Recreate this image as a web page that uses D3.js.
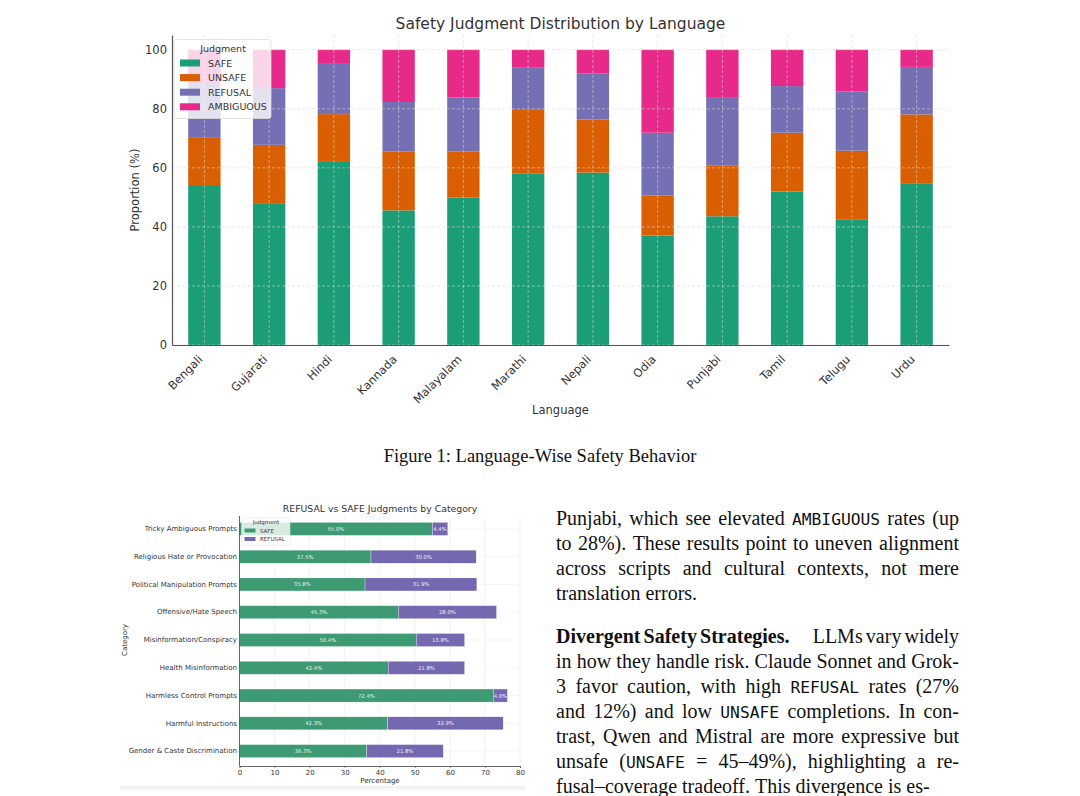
<!DOCTYPE html>
<html>
<head>
<meta charset="utf-8">
<script src="https://cdn.jsdelivr.net/npm/d3@7"></script>
<style>
  html, body { margin: 0; padding: 0; background: #ffffff; }
  svg { display: block; }
</style>
</head>
<body>
<svg id="page" width="1080" height="796"></svg>
<script>
// ---------------- DATA ----------------
const languages = ["Bengali","Gujarati","Hindi","Kannada","Malayalam","Marathi","Nepali","Odia","Punjabi","Tamil","Telugu","Urdu"];
const safeVals      = [54.2, 47.8, 62.0, 45.6, 49.9, 58.0, 58.4, 37.1, 43.6, 52.0, 42.4, 54.8];
const unsafeVals    = [16.2, 20.0, 16.2, 20.0, 15.7, 21.9, 18.0, 13.5, 17.1, 19.9, 23.4, 23.3];
const refusalVals   = [18.0, 19.2, 17.3, 16.7, 18.2, 14.0, 15.5, 21.3, 23.0, 15.8, 20.1, 16.1];
const ambiguousVals = [11.6, 13.0,  4.5, 17.7, 16.2,  6.1,  8.1, 28.1, 16.3, 12.3, 14.1,  5.8];
const judgments = ["SAFE","UNSAFE","REFUSAL","AMBIGUOUS"];
const judgmentColors = ["#1b9e77","#d95f02","#7570b3","#e7298a"];
const yTicks = [0, 20, 40, 60, 80, 100];

const categories = ["Tricky Ambiguous Prompts","Religious Hate or Provocation","Political Manipulation Prompts","Offensive/Hate Speech","Misinformation/Conspiracy","Health Misinformation","Harmless Control Prompts","Harmful Instructions","Gender & Caste Discrimination"];
const catSafe    = [55.0, 37.5, 35.8, 45.3, 50.4, 42.4, 72.4, 42.3, 36.3];
const catRefusal = [ 4.4, 30.0, 31.9, 28.0, 13.8, 21.8,  4.0, 32.9, 21.8];
const catSeries = ["SAFE","REFUSAL"];
const catColors = ["#3e9a72","#7468b0"];
const xTicks2 = [0,10,20,30,40,50,60,70,80];

const para1 = [
  "Punjabi, which see elevated `AMBIGUOUS` rates (up",
  "to 28%). These results point to uneven alignment",
  "across scripts and cultural contexts, not mere",
  "translation errors."
];
const para2 = [
  "*Divergent* *Safety* *Strategies.*~ LLMs vary widely",
  "in how they handle risk. Claude Sonnet and Grok-",
  "3 favor caution, with high `REFUSAL` rates (27%",
  "and 12%) and low `UNSAFE` completions. In con-",
  "trast, Qwen and Mistral are more expressive but",
  "unsafe (`UNSAFE` = 45–49%), highlighting a re-",
  "fusal–coverage tradeoff. This divergence is es-"
];

// ---------------- SETUP ----------------
const svg = d3.select("#page");
const SANS = "DejaVu Sans, Verdana, sans-serif";
const SERIF = "Liberation Serif, Times New Roman, serif";
const MONO = "DejaVu Sans Mono, monospace";

// ================= CHART 1 =================
(function(){
  const g = svg.append("g");
  const x = d3.scaleBand().domain(languages).range([172, 949]).paddingInner(0.5).paddingOuter(0.25);
  const y = d3.scaleLinear().domain([0, 105]).range([345, 35]);

  const rows = languages.map((l,i)=>({lang:l, SAFE:safeVals[i], UNSAFE:unsafeVals[i], REFUSAL:refusalVals[i], AMBIGUOUS:ambiguousVals[i]}));
  const stacked = d3.stack().keys(judgments)(rows);
  const color = d3.scaleOrdinal().domain(judgments).range(judgmentColors);

  g.append("g").selectAll("g").data(stacked).join("g")
    .attr("fill", d=>color(d.key))
    .selectAll("rect").data(d=>d).join("rect")
    .attr("x", d=>x(d.data.lang))
    .attr("width", x.bandwidth())
    .attr("y", d=>y(Math.min(d[1],100)))
    .attr("height", d=>y(d[0]) - y(Math.min(d[1],100)));

  // grid (drawn above bars, like matplotlib default)
  const grid = g.append("g").attr("stroke","#d8d8d8").attr("stroke-width",0.8).attr("stroke-dasharray","3,2").attr("opacity",0.7);
  grid.selectAll("line.h").data(yTicks).join("line").attr("class","h")
    .attr("x1",172).attr("x2",949).attr("y1",d=>y(d)).attr("y2",d=>y(d));
  grid.selectAll("line.v").data(languages).join("line").attr("class","v")
    .attr("x1",d=>x(d)+x.bandwidth()/2).attr("x2",d=>x(d)+x.bandwidth()/2)
    .attr("y1",35).attr("y2",345);

  // axes
  const yAxis = d3.axisLeft(y).tickValues(yTicks).tickSize(0).tickPadding(5);
  const ya = g.append("g").attr("transform","translate(172,0)").call(yAxis);
  ya.select(".domain").attr("stroke","#555").attr("stroke-width",1.2);
  ya.selectAll("text").attr("font-family",SANS).attr("font-size",11.5).attr("fill","#333");

  const xAxis = d3.axisBottom(x).tickSize(0).tickPadding(0);
  const xa = g.append("g").attr("transform","translate(0,345)").call(xAxis);
  xa.select(".domain").attr("stroke","#555").attr("stroke-width",1.2);
  xa.selectAll("text")
    .attr("font-family",SANS).attr("font-size",11.5).attr("fill","#333")
    .attr("text-anchor","end").attr("dy",null).attr("y",null)
    .attr("transform","translate(-1,15) rotate(-45)");

  g.append("text").attr("x",560.5).attr("y",29).attr("text-anchor","middle")
    .attr("font-family",SANS).attr("font-size",15.5).attr("fill","#333")
    .text("Safety Judgment Distribution by Language");
  g.append("text").attr("x",560.5).attr("y",414).attr("text-anchor","middle")
    .attr("font-family",SANS).attr("font-size",11.5).attr("fill","#333").text("Language");
  g.append("text").attr("transform","translate(139,190) rotate(-90)").attr("text-anchor","middle")
    .attr("font-family",SANS).attr("font-size",11.5).attr("fill","#333").text("Proportion (%)");

  // legend
  const lg = g.append("g");
  lg.append("rect").attr("x",174).attr("y",39.5).attr("width",97).attr("height",79).attr("rx",2.5)
    .attr("fill","#ffffff").attr("fill-opacity",0.8).attr("stroke","#dddddd").attr("stroke-width",0.8);
  lg.append("text").attr("x",223).attr("y",52).attr("text-anchor","middle")
    .attr("font-family",SANS).attr("font-size",9.5).attr("fill","#333").text("Judgment");
  judgments.forEach((k,i)=>{
    const yy = 63 + i*14.6;
    lg.append("rect").attr("x",180).attr("y",yy-3.5).attr("width",20).attr("height",7).attr("fill",color(k));
    lg.append("text").attr("x",208).attr("y",yy+3.5).attr("font-family",SANS).attr("font-size",9.5).attr("fill","#333").text(k);
  });
})();

// ================= CAPTION =================
svg.append("text").attr("x",540).attr("y",461.5).attr("text-anchor","middle")
  .attr("font-family",SERIF).attr("font-size",18.5).attr("fill","#111")
  .text("Figure 1: Language-Wise Safety Behavior");

// ================= CHART 2 =================
(function(){
  const g = svg.append("g");
  // faint shadow under the embedded figure
  const defs = svg.append("defs");
  const grad = defs.append("linearGradient").attr("id","shadow").attr("x1",0).attr("x2",0).attr("y1",0).attr("y2",1);
  grad.append("stop").attr("offset","0%").attr("stop-color","#000").attr("stop-opacity",0.07);
  grad.append("stop").attr("offset","100%").attr("stop-color","#000").attr("stop-opacity",0);
  g.append("rect").attr("x",120).attr("y",786).attr("width",405).attr("height",6).attr("fill","url(#shadow)");

  const x = d3.scaleLinear().domain([0,80]).range([239.5, 520]);
  const y = d3.scaleBand().domain(categories).range([515, 765]).paddingInner(0.53).paddingOuter(0.265);

  // grid
  g.append("g").selectAll("line").data(xTicks2).join("line")
    .attr("x1",d=>x(d)).attr("x2",d=>x(d)).attr("y1",516).attr("y2",766)
    .attr("stroke","#ebebeb").attr("stroke-width",0.7);
  g.append("g").selectAll("line").data(categories).join("line")
    .attr("x1",239.5).attr("x2",523).attr("y1",d=>y(d)+y.bandwidth()/2).attr("y2",d=>y(d)+y.bandwidth()/2)
    .attr("stroke","#f0f0f0").attr("stroke-width",0.6);

  const rows = categories.map((c,i)=>({cat:c, SAFE:catSafe[i], REFUSAL:catRefusal[i]}));
  const stacked = d3.stack().keys(catSeries)(rows);
  const color = d3.scaleOrdinal().domain(catSeries).range(catColors);
  const layers = g.append("g").selectAll("g").data(stacked).join("g").attr("fill",d=>color(d.key));
  layers.selectAll("rect").data(d=>d).join("rect")
    .attr("x",d=>x(d[0])).attr("width",d=>x(d[1])-x(d[0]))
    .attr("y",d=>y(d.data.cat)).attr("height",y.bandwidth())
    .attr("stroke","#ffffff").attr("stroke-width",0.3);
  layers.selectAll("text").data(d=>d).join("text")
    .attr("x",d=>(x(d[0])+x(d[1]))/2).attr("y",d=>y(d.data.cat)+y.bandwidth()/2+2)
    .attr("text-anchor","middle").attr("font-family",SANS).attr("font-size",5.3).attr("fill","#ffffff")
    .attr("fill-opacity",0.9)
    .text(d=>(d[1]-d[0]).toFixed(1)+"%");

  // axes
  g.append("line").attr("x1",239.5).attr("x2",239.5).attr("y1",516).attr("y2",766).attr("stroke","#555").attr("stroke-width",0.9);
  const xa = g.append("g").attr("transform","translate(0,766)").call(d3.axisBottom(x).tickValues(xTicks2).tickSize(2).tickPadding(2));
  xa.select(".domain").attr("stroke","#555").attr("stroke-width",0.9);
  xa.selectAll(".tick line").attr("stroke","#555").attr("stroke-width",0.6);
  xa.selectAll("text").attr("font-family",SANS).attr("font-size",7).attr("fill","#333");
  const ya = g.append("g").attr("transform","translate(239.5,0)").call(d3.axisLeft(y).tickSize(0).tickPadding(2.5));
  ya.select(".domain").remove();
  ya.selectAll("text").attr("font-family",SANS).attr("font-size",7).attr("fill","#333");

  g.append("text").attr("x",380).attr("y",512).attr("text-anchor","middle")
    .attr("font-family",SANS).attr("font-size",9.3).attr("fill","#333").text("REFUSAL vs SAFE Judgments by Category");
  g.append("text").attr("x",380).attr("y",783).attr("text-anchor","middle")
    .attr("font-family",SANS).attr("font-size",7).attr("fill","#333").text("Percentage");
  g.append("text").attr("transform","translate(127,640) rotate(-90)").attr("text-anchor","middle")
    .attr("font-family",SANS).attr("font-size",7).attr("fill","#333").text("Category");

  // legend
  const lg = g.append("g");
  lg.append("rect").attr("x",241.5).attr("y",518).attr("width",48.5).attr("height",27).attr("rx",1.5)
    .attr("fill","#ffffff").attr("fill-opacity",0.8).attr("stroke","#dddddd").attr("stroke-width",0.5);
  lg.append("text").attr("x",266).attr("y",524).attr("text-anchor","middle")
    .attr("font-family",SANS).attr("font-size",5.5).attr("fill","#333").text("Judgment");
  catSeries.forEach((k,i)=>{
    const yy = 530.5 + i*8.5;
    lg.append("rect").attr("x",244.5).attr("y",yy-2).attr("width",11).attr("height",4).attr("fill",color(k));
    lg.append("text").attr("x",260).attr("y",yy+2).attr("font-family",SANS).attr("font-size",5.5).attr("fill","#333").text(k);
  });
})();

// ================= BODY TEXT (justified) =================
(function(){
  const LEFT = 556, RIGHT = 959, FS = 20, MFS = 16.3;
  function parseWord(w){
    let bold = false, extra = 0;
    if (w.endsWith("~")) { extra = FS; w = w.slice(0,-1); }
    if (w.startsWith("*") && w.endsWith("*")) { bold = true; w = w.slice(1,-1); }
    const parts = w.split("`");
    const segs = parts.map((t,i)=>({t, mono: i%2===1, bold})).filter(s=>s.t.length>0);
    return {segs, extra};
  }
  function styleSeg(sel, s){
    sel.attr("font-family", s.mono ? MONO : SERIF)
       .attr("font-size", s.mono ? MFS : FS)
       .attr("font-weight", s.bold ? "bold" : "normal");
  }
  function measure(word){
    const t = svg.append("text").attr("x",0).attr("y",-100);
    word.segs.forEach(s=>{ styleSeg(t.append("tspan").text(s.t), s); });
    const w = t.node().getComputedTextLength();
    t.remove();
    return w;
  }
  function drawPara(lines, y0){
    lines.forEach((line, li)=>{
      const words = line.split(" ").map(parseWord);
      words.forEach(w=>w.width = measure(w));
      const total = d3.sum(words, w=>w.width + w.extra);
      const last = li === lines.length-1;
      const gap = last ? FS*0.25 : (RIGHT-LEFT-total)/(words.length-1);
      let cx = LEFT;
      const yy = y0 + li*25.1;
      const t = svg.append("text").attr("y",yy).attr("fill","#111");
      words.forEach(w=>{
        w.segs.forEach((s,si)=>{
          const ts = t.append("tspan").text(s.t);
          if (si===0) ts.attr("x",cx);
          styleSeg(ts, s);
        });
        cx += w.width + w.extra + gap;
      });
    });
  }
  drawPara(para1, 524.5);
  drawPara(para2, 642.5);
})();
</script>
</body>
</html>
